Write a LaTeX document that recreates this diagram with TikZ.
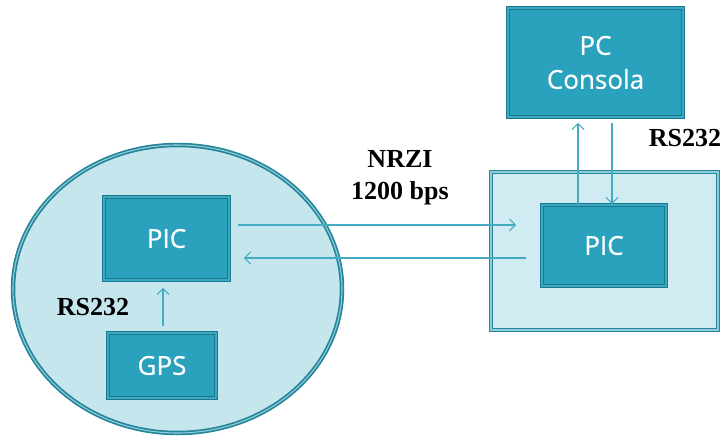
\documentclass[tikz,border=0pt]{standalone}
\usepackage{fontspec}
\setmainfont{Liberation Serif}
\newfontfamily\boxfont[FakeBold=0.6]{Open Sans}
\usetikzlibrary{arrows.meta,shapes.geometric}
\definecolor{boxfill}{HTML}{2AA1BD}
\definecolor{boxdark}{HTML}{19788C}
\definecolor{boxlight}{HTML}{3BA9C2}
\definecolor{zonefill}{HTML}{C6E6EE}
\definecolor{zonefillb}{HTML}{D0EBF2}
\definecolor{zoneline}{HTML}{25869B}
\definecolor{zonegap}{HTML}{8FCBD9}
\definecolor{wire}{HTML}{45ABC3}
\tikzset{
  x=1pt, y=-1pt,
  unit/.style={rectangle, fill=boxfill, draw=boxdark, line width=1.6pt,
    double=boxlight, double distance=1.2pt, text=white, align=center,
    font=\boxfont\fontsize{26}{34}\selectfont, inner sep=0pt},
  zone/.style={draw=zoneline, line width=1.7pt, double=zonegap,
    double distance=1.1pt, inner sep=0pt},
  link/.style={draw=wire, line width=1.1pt,
    -{Straight Barb[length=6pt,width=12pt,line width=1.1pt]}},
  tag/.style={font=\bfseries\fontsize{26}{32}\selectfont, align=center, inner sep=0pt},
}
\begin{document}
\begin{tikzpicture}
\useasboundingbox (0,0) rectangle (723,439);

% remote unit (ellipse) and base station (framed area)
\node[zone, ellipse, fill=zonefill, minimum width=329pt, minimum height=288pt]
  (remote) at (177.5,289) {};
\node[zone, rectangle, fill=zonefillb, minimum width=227pt, minimum height=158pt]
  (station) at (604.5,251) {};

% blocks
\node[unit, minimum width=125pt, minimum height=83pt] (picl) at (166.5,238.5) {PIC};
\node[unit, minimum width=108pt, minimum height=65pt] (gps) at (162,365.5) {GPS};
\node[unit, minimum width=124pt, minimum height=81pt] (picr) at (604,245.5) {PIC};
\node[unit, minimum width=175pt, minimum height=109pt] (pc) at (595.5,62.5) {PC\\Consola};

% labels
\node[tag] (nrzi) at (400,178) {NRZI\\1200 bps};
\node[tag] (rsl) at (93,307) {RS232};
\node[tag] (rsr) at (685,138) {RS232};

% GPS -> PIC
\draw[link, shorten <=6pt, shorten >=7pt] ([xshift=1pt]gps.north) -- ([xshift=1pt]gps.north |- picl.south);

% radio link PIC <-> PIC
\draw[link, shorten <=8pt, shorten >=25pt]
  ([yshift=13.5pt]picl.east) -- ([yshift=13.5pt]picl.east -| picr.west);
\draw[link, shorten <=15pt, shorten >=14pt]
  ([yshift=-19.5pt]picl.east -| picr.west) -- ([yshift=-19.5pt]picl.east);

% PIC <-> PC console
\draw[link, shorten >=5pt] ([xshift=-26pt]picr.north) -- ([xshift=-26pt]picr.north |- pc.south);
\draw[link, shorten <=5pt] ([xshift=8pt]picr.north |- pc.south) -- ([xshift=8pt]picr.north);
\end{tikzpicture}
\end{document}
